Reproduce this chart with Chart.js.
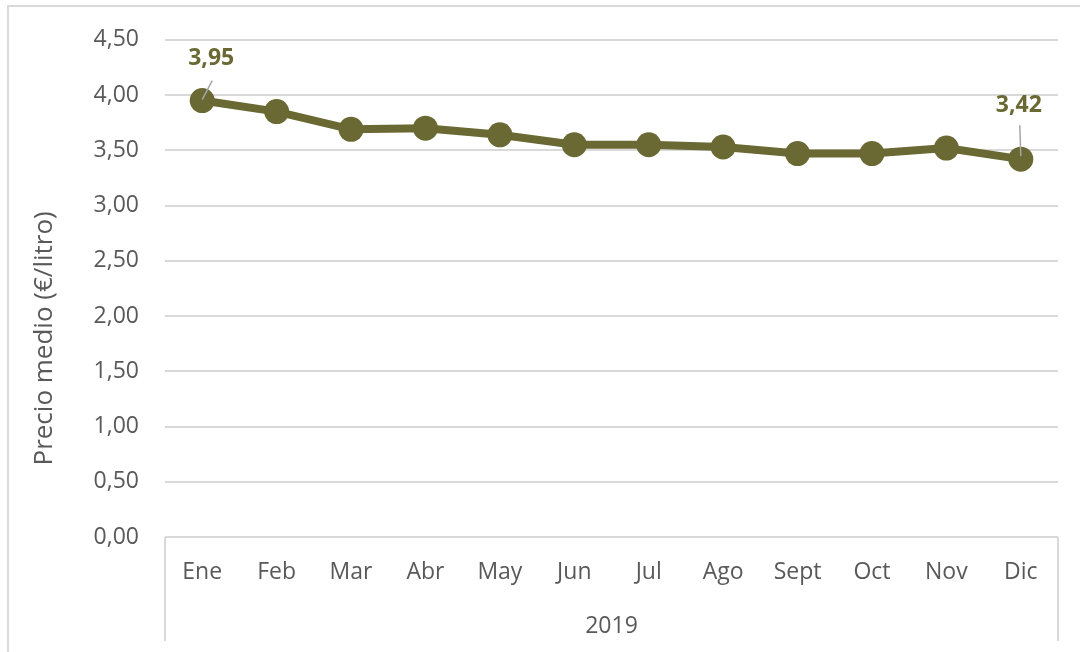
<!DOCTYPE html>
<html>
<head>
<meta charset="utf-8">
<script src="https://cdn.jsdelivr.net/npm/chart.js@4/dist/chart.umd.min.js"></script>
<style>
  html, body { margin: 0; padding: 0; background: #ffffff; }
  #wrap { position: relative; width: 1080px; height: 652px; }
  canvas { display: block; }
</style>
</head>
<body>
<div id="wrap"><canvas id="c" width="1080" height="652"></canvas></div>
<script>
const categories = ["Ene", "Feb", "Mar", "Abr", "May", "Jun", "Jul", "Ago", "Sept", "Oct", "Nov", "Dic"];
const groupLabel = "2019";
const precioMedio = [3.95, 3.85, 3.69, 3.70, 3.64, 3.55, 3.55, 3.53, 3.47, 3.47, 3.52, 3.42];
const labeledIndices = [0, 11];
const yTitle = "Precio medio (€/litro)";

const FONT = "'Open Sans', 'DejaVu Sans', sans-serif";
const OLIVE = "#6A6833";
const GRID = "#D9D9D9";
const TEXT = "#595959";

function fmt(v) { return v.toFixed(2).replace(".", ","); }

const decorPlugin = {
  id: "decor",
  beforeDraw(chart) {
    const ctx = chart.ctx;
    ctx.save();
    ctx.fillStyle = "#ffffff";
    ctx.fillRect(0, 0, chart.width, chart.height);
    ctx.strokeStyle = GRID;
    ctx.lineWidth = 2;
    ctx.beginPath();
    ctx.moveTo(8, chart.height);
    ctx.lineTo(8, 6);
    ctx.lineTo(chart.width, 6);
    ctx.stroke();
    ctx.restore();
  },
  afterDraw(chart) {
    const ctx = chart.ctx;
    const a = chart.chartArea;
    ctx.save();
    ctx.save();
    ctx.translate(45, (a.top + a.bottom) / 2 + 50);
    ctx.rotate(-Math.PI / 2);
    ctx.fillStyle = TEXT;
    ctx.font = "26px " + FONT;
    ctx.textAlign = "center";
    ctx.textBaseline = "middle";
    ctx.fillText(yTitle, 0, 0);
    ctx.restore();
    ctx.strokeStyle = GRID;
    ctx.lineWidth = 2;
    ctx.beginPath();
    ctx.moveTo(a.left, a.bottom);
    ctx.lineTo(a.left, a.bottom + 104);
    ctx.moveTo(a.right, a.bottom);
    ctx.lineTo(a.right, a.bottom + 104);
    ctx.stroke();
    ctx.fillStyle = TEXT;
    ctx.font = "23px " + FONT;
    ctx.textAlign = "center";
    ctx.textBaseline = "middle";
    ctx.fillText(groupLabel, (a.left + a.right) / 2, a.bottom + 89);
    const meta = chart.getDatasetMeta(0);
    labeledIndices.forEach((i) => {
      const p = meta.data[i];
      const isLast = i === categories.length - 1;
      const lx = isLast ? p.x - 2 : p.x + 9;
      const ly = isLast ? p.y - 54 : p.y - 42;
      ctx.strokeStyle = "#A6A6A6";
      ctx.lineWidth = 1.5;
      ctx.beginPath();
      if (isLast) {
        ctx.moveTo(p.x - 1, p.y - 34);
        ctx.lineTo(p.x, p.y - 3);
      } else {
        ctx.moveTo(p.x + 10, p.y - 20);
        ctx.lineTo(p.x, p.y - 1);
      }
      ctx.stroke();
      ctx.fillStyle = OLIVE;
      ctx.font = "bold 23px " + FONT;
      ctx.textAlign = "center";
      ctx.textBaseline = "middle";
      ctx.fillText(fmt(precioMedio[i]), lx, ly);
    });
    ctx.restore();
  }
};

new Chart(document.getElementById("c"), {
  type: "line",
  data: {
    labels: categories,
    datasets: [{
      data: precioMedio,
      borderColor: OLIVE,
      backgroundColor: OLIVE,
      borderWidth: 8,
      pointRadius: 12.5,
      pointBackgroundColor: OLIVE,
      pointBorderColor: OLIVE,
      pointBorderWidth: 0,
      tension: 0,
      fill: false
    }]
  },
  options: {
    responsive: false,
    animation: false,
    devicePixelRatio: 1,
    layout: { padding: { top: 38, right: 22, left: 0, bottom: 0 } },
    plugins: { legend: { display: false }, tooltip: { enabled: false } },
    scales: {
      x: {
        type: "category",
        offset: true,
        grid: { display: false, drawTicks: false },
        border: { display: false },
        ticks: { color: TEXT, font: { family: FONT, size: 23 }, padding: 22, maxRotation: 0, autoSkip: false },
        afterFit(s) { s.height = 115; }
      },
      y: {
        min: 0,
        max: 4.5,
        ticks: {
          stepSize: 0.5,
          color: TEXT,
          font: { family: FONT, size: 23 },
          padding: 26,
          callback: (v) => fmt(v)
        },
        grid: { color: GRID, lineWidth: 2, drawTicks: false },
        border: { display: false },
        title: { display: false },
        afterFit(s) { s.width = 165; }
      }
    }
  },
  plugins: [decorPlugin]
});
</script>
</body>
</html>
